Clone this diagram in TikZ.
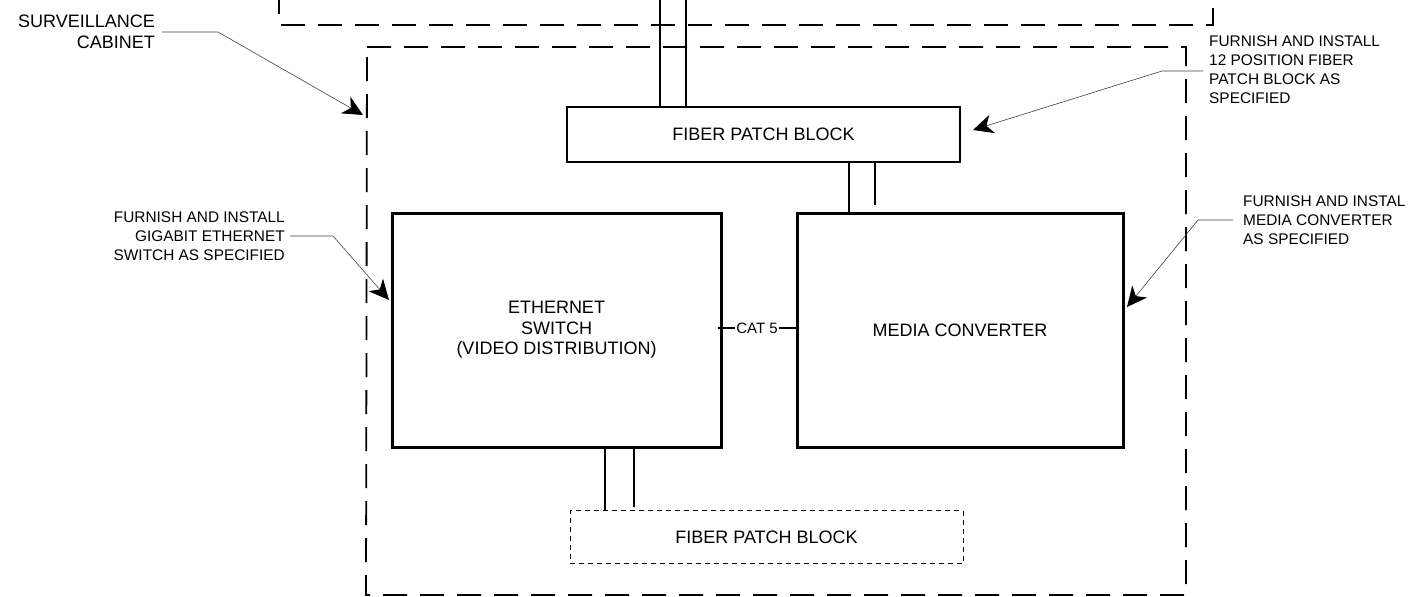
\documentclass[tikz,border=0pt]{standalone}
\usepackage{fontspec}
\setmainfont{Liberation Sans}
\usetikzlibrary{arrows.meta}
\begin{document}
\begin{tikzpicture}[x=1pt,y=-1pt,
  mainbox/.style={draw,line width=3pt,inner sep=0pt,align=center,font=\fontsize{18}{20.5}\selectfont},
  pblock/.style={draw,line width=2pt,inner sep=0pt,font=\fontsize{18}{20.5}\selectfont},
  pblockdash/.style={draw,line width=0.9pt,dash pattern=on 5pt off 4pt,inner sep=0pt,font=\fontsize{18}{20.5}\selectfont},
  fiber/.style={line width=2.5pt},
  cabinet/.style={line width=1.8pt,dash pattern=on 24pt off 13pt},
  leader/.style={line width=0.6pt,black!75,-{Stealth[length=20pt,width=19pt,inset=6pt,color=black,fill=black,line width=0.8pt]}},
  note/.style={inner sep=0pt,font=\fontsize{15.4}{18.7}\selectfont},
  bignote/.style={inner sep=0pt,font=\fontsize{18}{21}\selectfont}
]
\useasboundingbox (0,0) rectangle (1409,597);

% cabinets
\draw[cabinet] (279,-10) -- (279,25) -- (1213,25) -- (1213,-10);
\draw[cabinet] (367,47) -- (1186,47) -- (1186,595) -- (366,595) -- cycle;

% blocks
\node[pblock,minimum width=393pt,minimum height=55pt] (pb) at (763.5,134.5) {FIBER PATCH BLOCK};
\node[mainbox,minimum width=329pt,minimum height=234pt] (sw) at (556.5,330) {ETHERNET\\SWITCH\\(VIDEO DISTRIBUTION)};
\node[mainbox,minimum width=326pt,minimum height=234pt] (mc) at (960,330) {MEDIA CONVERTER};
\node[pblockdash,minimum width=393pt,minimum height=53pt] (pb2) at (766.5,537) {FIBER PATCH BLOCK};

% fibers
\coordinate (f1) at (660,-5);
\coordinate (f2) at (686,-5);
\draw[fiber] (f1) -- (f1 |- pb.north);
\draw[fiber] (f2) -- (f2 |- pb.north);
\coordinate (f3) at (849,162);
\coordinate (f4) at (875,162);
\draw[fiber] (f3) -- (f3 |- mc.north);
\draw[fiber] (f4) -- ([yshift=7pt]f4 |- mc.north);
\coordinate (f5) at (605,447);
\coordinate (f6) at (634,447);
\draw[fiber] (f5) -- (f5 |- pb2.north);
\draw[fiber] (f6) -- ([yshift=3pt]f6 |- pb2.north);

% CAT 5
\node[inner sep=1.5pt,font=\fontsize{15}{17}\selectfont] (cat) at (757,328) {CAT 5};
\draw[line width=1.6pt] ([xshift=-5pt]sw.east |- cat.west) -- (cat.west);
\draw[line width=1.6pt] (cat.east) -- (mc.west |- cat.east);

% notes
\node[bignote,align=right,anchor=north east] (n1) at (155,15) {SURVEILLANCE\\CABINET};
\node[note,align=left,anchor=north west] (n2) at (1209,36) {FURNISH AND INSTALL\\12 POSITION FIBER\\PATCH BLOCK AS\\SPECIFIED};
\node[note,align=right,anchor=north east] (n3) at (285,212) {FURNISH AND INSTALL\\GIGABIT ETHERNET\\SWITCH AS SPECIFIED};
\node[note,align=left,anchor=north west] (n4) at (1243,196) {FURNISH AND INSTAL\\MEDIA CONVERTER\\AS SPECIFIED};

% leaders
\coordinate (a1) at (162,32); \coordinate (b1) at (218,32); \coordinate (t1) at (363,115);
\draw[leader] (a1) -- (b1) -- (t1);
\coordinate (a2) at (1203,71); \coordinate (b2) at (1162,71); \coordinate (t2) at (973,130);
\draw[leader] (a2) -- (b2) -- (t2);
\coordinate (a3) at (290,236); \coordinate (b3) at (333,236); \coordinate (t3) at (389,300);
\draw[leader] (a3) -- (b3) -- (t3);
\coordinate (a4) at (1233,220); \coordinate (b4) at (1198,220); \coordinate (t4) at (1127,307);
\draw[leader] (a4) -- (b4) -- (t4);
\end{tikzpicture}
\end{document}
